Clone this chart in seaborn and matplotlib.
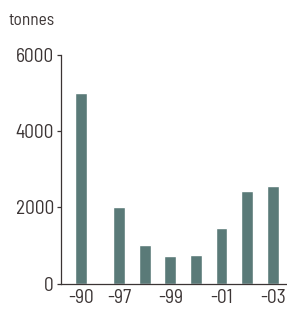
import seaborn as sns
import pandas as pd
import matplotlib
matplotlib.use("Agg")
import matplotlib.pyplot as plt

# data
years = ["-90", "-97", "-98", "-99", "-00", "-01", "-02", "-03"]
tonnes = [5000, 2000, 1000, 720, 750, 1460, 2430, 2560]
shown_labels = ["-90", "-97", "-99", "-01", "-03"]

bar_color = "#5a7a78"
text_color = "#3b3434"

sns.set_style("white")
plt.rcParams["font.family"] = ["Barlow Semi Condensed", "DejaVu Sans"]

# half-slot gap between -90 and the later years
pos = [i + (0.5 if i > 0 else 0) for i in range(len(years))]
df = pd.DataFrame({"pos": pos, "year": years, "tonnes": tonnes})

fig = plt.figure(figsize=(2.87, 3.11), dpi=100)
ax = fig.add_axes([0.2125, 0.0884, 0.7875, 0.7346])
sns.barplot(data=df, x="pos", y="tonnes", native_scale=True, color=bar_color,
            saturation=1, ax=ax)

# bar width as a fraction of one slot
for p in ax.patches:
    c = p.get_x() + p.get_width() / 2
    p.set_width(0.46)
    p.set_x(c - 0.23)

ax.set_xlim(-0.77, 8.06)
ax.set_ylim(0, 6000)
ax.set_yticks([0, 2000, 4000, 6000])
ax.set_yticklabels(["0", "2000", "4000", "6000"])
tick_pos = [p for p, y in zip(pos, years) if y in shown_labels]
ax.set_xticks(tick_pos)
ax.set_xticklabels(shown_labels)
ax.set_xlabel("")
ax.set_ylabel("")

for s in ["top", "right"]:
    ax.spines[s].set_visible(False)
for s in ["left", "bottom"]:
    ax.spines[s].set_color(text_color)
    ax.spines[s].set_linewidth(0.9)

ax.tick_params(axis="y", length=3, width=0.9, color=text_color, labelsize=14,
               labelcolor=text_color, pad=2, left=True)
ax.tick_params(axis="x", length=0, labelsize=14, labelcolor=text_color, pad=4)

fig.text(0.028, 0.933, "tonnes", fontsize=12.5, color=text_color, ha="left", va="center")

fig.savefig("out.png", dpi=100)
